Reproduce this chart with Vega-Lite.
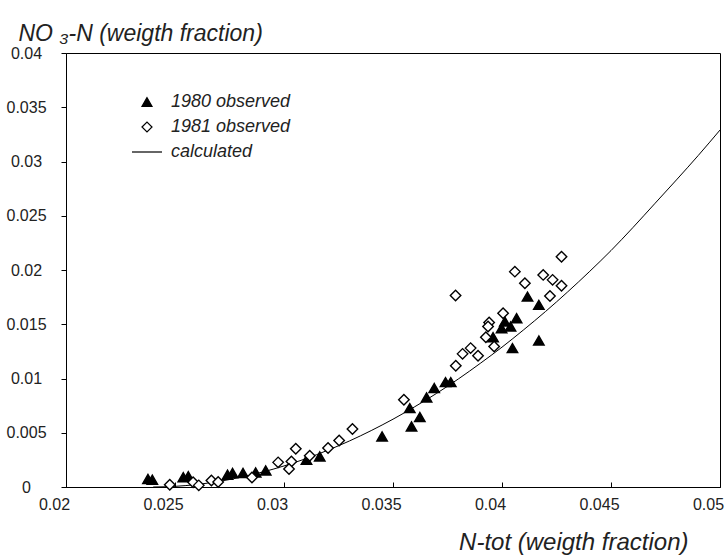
{
  "$schema": "https://vega.github.io/schema/vega-lite/v6.json",
  "width": 654,
  "height": 434,
  "autosize": "none",
  "padding": {"left": 66, "top": 53, "right": 6, "bottom": 73},
  "background": "white",
  "config": {
    "font": "Liberation Sans",
    "view": {"stroke": "black", "strokeWidth": 1},
    "legend": {
      "orient": "none",
      "legendX": 72,
      "legendY": 40,
      "padding": 0,
      "labelFont": "Liberation Sans",
      "labelFontSize": 18,
      "labelFontStyle": "italic",
      "labelColor": "#222",
      "labelOffset": 15,
      "rowPadding": 7,
      "symbolSize": 100,
      "symbolStrokeColor": "black",
      "symbolStrokeWidth": 1.2
    }
  },
  "datasets": {
    "obs": [
      {"ntot": 0.02376, "no3": 0.00074, "series": "1980 observed"},
      {"ntot": 0.02396, "no3": 0.00067, "series": "1980 observed"},
      {"ntot": 0.02538, "no3": 0.0009, "series": "1980 observed"},
      {"ntot": 0.02561, "no3": 0.001, "series": "1980 observed"},
      {"ntot": 0.02741, "no3": 0.00113, "series": "1980 observed"},
      {"ntot": 0.02764, "no3": 0.00129, "series": "1980 observed"},
      {"ntot": 0.02812, "no3": 0.00129, "series": "1980 observed"},
      {"ntot": 0.0287, "no3": 0.00134, "series": "1980 observed"},
      {"ntot": 0.02916, "no3": 0.00153, "series": "1980 observed"},
      {"ntot": 0.03103, "no3": 0.00251, "series": "1980 observed"},
      {"ntot": 0.03164, "no3": 0.00282, "series": "1980 observed"},
      {"ntot": 0.0345, "no3": 0.00466, "series": "1980 observed"},
      {"ntot": 0.03585, "no3": 0.00558, "series": "1980 observed"},
      {"ntot": 0.03623, "no3": 0.00645, "series": "1980 observed"},
      {"ntot": 0.03577, "no3": 0.00727, "series": "1980 observed"},
      {"ntot": 0.03654, "no3": 0.00825, "series": "1980 observed"},
      {"ntot": 0.03689, "no3": 0.00912, "series": "1980 observed"},
      {"ntot": 0.03741, "no3": 0.00967, "series": "1980 observed"},
      {"ntot": 0.03765, "no3": 0.00967, "series": "1980 observed"},
      {"ntot": 0.03959, "no3": 0.01381, "series": "1980 observed"},
      {"ntot": 0.03998, "no3": 0.01464, "series": "1980 observed"},
      {"ntot": 0.04013, "no3": 0.01525, "series": "1980 observed"},
      {"ntot": 0.04039, "no3": 0.01479, "series": "1980 observed"},
      {"ntot": 0.04067, "no3": 0.01556, "series": "1980 observed"},
      {"ntot": 0.04048, "no3": 0.0128, "series": "1980 observed"},
      {"ntot": 0.04117, "no3": 0.01755, "series": "1980 observed"},
      {"ntot": 0.04169, "no3": 0.01679, "series": "1980 observed"},
      {"ntot": 0.04169, "no3": 0.0135, "series": "1980 observed"},
      {"ntot": 0.02476, "no3": 0.0002, "series": "1981 observed"},
      {"ntot": 0.02583, "no3": 0.00043, "series": "1981 observed"},
      {"ntot": 0.02609, "no3": 0.00015, "series": "1981 observed"},
      {"ntot": 0.02667, "no3": 0.0006, "series": "1981 observed"},
      {"ntot": 0.02698, "no3": 0.00046, "series": "1981 observed"},
      {"ntot": 0.02853, "no3": 0.00088, "series": "1981 observed"},
      {"ntot": 0.02973, "no3": 0.00227, "series": "1981 observed"},
      {"ntot": 0.03034, "no3": 0.00236, "series": "1981 observed"},
      {"ntot": 0.03023, "no3": 0.00166, "series": "1981 observed"},
      {"ntot": 0.03054, "no3": 0.00353, "series": "1981 observed"},
      {"ntot": 0.03118, "no3": 0.00288, "series": "1981 observed"},
      {"ntot": 0.03202, "no3": 0.00359, "series": "1981 observed"},
      {"ntot": 0.03253, "no3": 0.00429, "series": "1981 observed"},
      {"ntot": 0.03314, "no3": 0.00534, "series": "1981 observed"},
      {"ntot": 0.0355, "no3": 0.00804, "series": "1981 observed"},
      {"ntot": 0.03788, "no3": 0.01117, "series": "1981 observed"},
      {"ntot": 0.03819, "no3": 0.01227, "series": "1981 observed"},
      {"ntot": 0.03856, "no3": 0.0128, "series": "1981 observed"},
      {"ntot": 0.0389, "no3": 0.01209, "series": "1981 observed"},
      {"ntot": 0.03926, "no3": 0.01381, "series": "1981 observed"},
      {"ntot": 0.03787, "no3": 0.01764, "series": "1981 observed"},
      {"ntot": 0.03941, "no3": 0.01516, "series": "1981 observed"},
      {"ntot": 0.03936, "no3": 0.01479, "series": "1981 observed"},
      {"ntot": 0.03964, "no3": 0.01295, "series": "1981 observed"},
      {"ntot": 0.04005, "no3": 0.01602, "series": "1981 observed"},
      {"ntot": 0.04059, "no3": 0.01985, "series": "1981 observed"},
      {"ntot": 0.04105, "no3": 0.01878, "series": "1981 observed"},
      {"ntot": 0.04189, "no3": 0.01955, "series": "1981 observed"},
      {"ntot": 0.04232, "no3": 0.01909, "series": "1981 observed"},
      {"ntot": 0.04273, "no3": 0.01854, "series": "1981 observed"},
      {"ntot": 0.04273, "no3": 0.02123, "series": "1981 observed"},
      {"ntot": 0.0422, "no3": 0.01761, "series": "1981 observed"}
    ],
    "calc": [
      {"ntot": 0.024, "no3": 0},
      {"ntot": 0.025, "no3": 0.00006},
      {"ntot": 0.026, "no3": 0.00023},
      {"ntot": 0.027, "no3": 0.00051},
      {"ntot": 0.028, "no3": 0.00089},
      {"ntot": 0.029, "no3": 0.00137},
      {"ntot": 0.03, "no3": 0.00194},
      {"ntot": 0.031, "no3": 0.00261},
      {"ntot": 0.032, "no3": 0.00338},
      {"ntot": 0.033, "no3": 0.00424},
      {"ntot": 0.034, "no3": 0.0052},
      {"ntot": 0.035, "no3": 0.00625},
      {"ntot": 0.036, "no3": 0.0074},
      {"ntot": 0.037, "no3": 0.00863},
      {"ntot": 0.038, "no3": 0.00996},
      {"ntot": 0.039, "no3": 0.01139},
      {"ntot": 0.04, "no3": 0.01289},
      {"ntot": 0.041, "no3": 0.0145},
      {"ntot": 0.042, "no3": 0.01618},
      {"ntot": 0.043, "no3": 0.01796},
      {"ntot": 0.044, "no3": 0.01983},
      {"ntot": 0.045, "no3": 0.02179},
      {"ntot": 0.046, "no3": 0.0239},
      {"ntot": 0.047, "no3": 0.0261},
      {"ntot": 0.048, "no3": 0.0283},
      {"ntot": 0.049, "no3": 0.03055},
      {"ntot": 0.05, "no3": 0.0329}
    ]
  },
  "encoding": {
    "x": {
      "field": "ntot", "type": "quantitative",
      "scale": {"domain": [0.02, 0.05], "nice": false, "zero": false},
      "axis": {
        "values": [0.02, 0.025, 0.03, 0.035, 0.04, 0.045, 0.05],
        "labelExpr": "'' + datum.value",
        "grid": false,
        "domainColor": "black",
        "tickColor": "black",
        "tickSize": -5,
        "labelPadding": 14,
        "labelOffset": -12,
        "labelFontSize": 16,
        "labelColor": "#222",
        "labelFlush": false,
        "title": "N-tot (weigth fraction)",
        "titleFontSize": 24,
        "titleFontStyle": "italic",
        "titleFontWeight": "normal",
        "titleColor": "#222",
        "titleAnchor": "end",
        "titleAlign": "right",
        "titleX": 622,
        "titleY": 62,
        "titleBaseline": "alphabetic"
      }
    },
    "y": {
      "field": "no3", "type": "quantitative",
      "scale": {"domain": [0, 0.04], "nice": false},
      "axis": {
        "values": [0, 0.005, 0.01, 0.015, 0.02, 0.025, 0.03, 0.035, 0.04],
        "labelExpr": "'' + datum.value",
        "grid": false,
        "domainColor": "black",
        "tickColor": "black",
        "tickSize": 5,
        "labelPadding": 35,
        "labelAlign": "center",
        "labelFontSize": 16,
        "labelColor": "#222",
        "labelFlush": false,
        "title": "NO ₃-N (weigth fraction)",
        "titleAngle": 0,
        "titleAlign": "left",
        "titleX": -48,
        "titleY": -13,
        "titleBaseline": "alphabetic",
        "titleFontSize": 23,
        "titleFontStyle": "italic",
        "titleFontWeight": "normal",
        "titleColor": "#222"
      }
    }
  },
  "layer": [
    {
      "data": {"name": "calc"},
      "mark": {"type": "line", "color": "black", "strokeWidth": 1, "interpolate": "monotone"}
    },
    {
      "data": {"name": "obs"},
      "mark": {"type": "point", "filled": true, "size": 110, "strokeWidth": 1.4, "opacity": 1},
      "encoding": {
        "shape": {
          "field": "series", "type": "ordinal", "title": null,
          "scale": {"domain": ["1980 observed", "1981 observed", "calculated"], "range": ["triangle-up", "diamond", "M-3,0L3,0"]}
        },
        "fill": {
          "field": "series", "type": "ordinal", "title": null,
          "scale": {"domain": ["1980 observed", "1981 observed", "calculated"], "range": ["black", "white", "transparent"]}
        },
        "stroke": {
          "field": "series", "type": "ordinal", "title": null,
          "scale": {"domain": ["1980 observed", "1981 observed", "calculated"], "range": ["black", "black", "black"]}
        }
      }
    }
  ]
}
